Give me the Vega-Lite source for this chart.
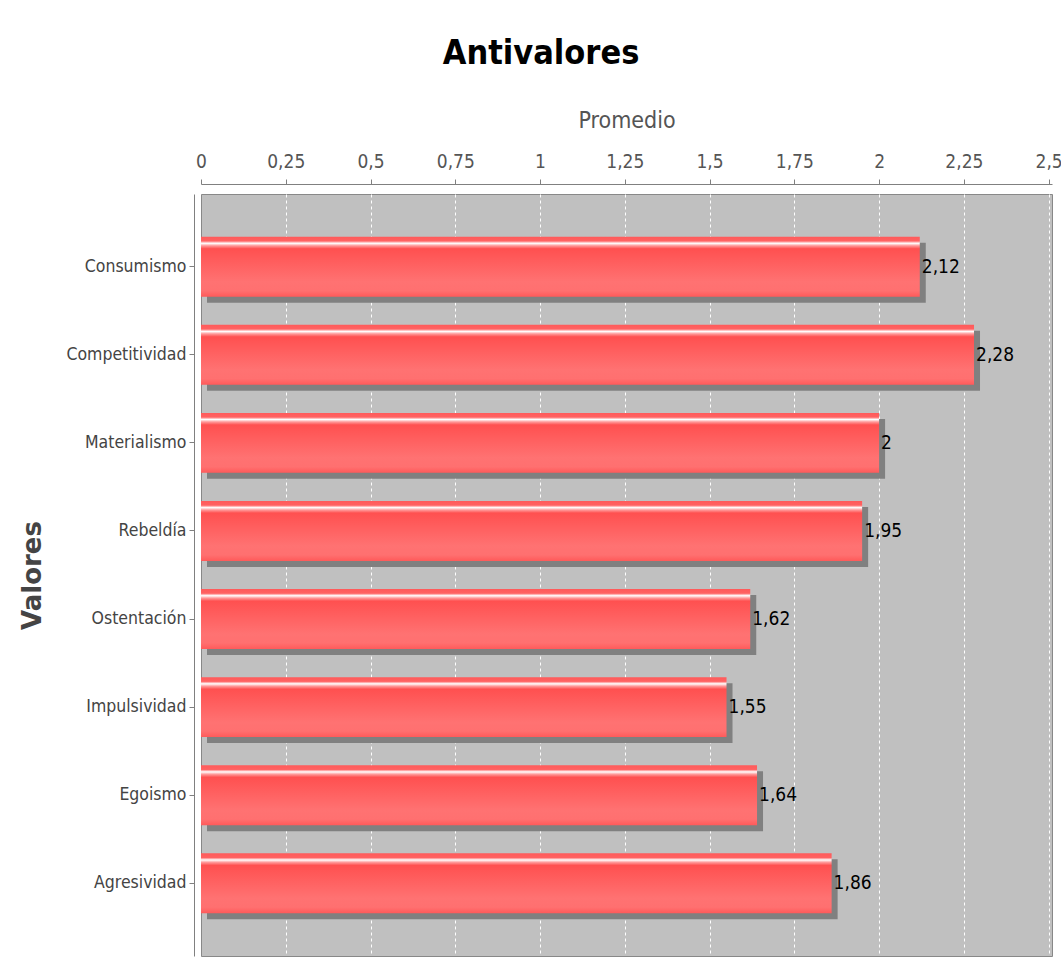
{
  "$schema": "https://vega.github.io/schema/vega-lite/v6.json",
  "autosize": {"type": "none"},
  "width": 851,
  "height": 762,
  "padding": {"left": 201, "top": 194, "right": 9, "bottom": 10},
  "background": "white",
  "title": {
    "text": "Antivalores",
    "anchor": "middle",
    "frame": "bounds",
    "font": "DejaVu Sans Condensed, sans-serif",
    "fontSize": 34,
    "fontWeight": "bold",
    "color": "#000000",
    "offset": 38
  },
  "data": {
    "values": [
      {"valor": "Consumismo", "promedio": 2.12},
      {"valor": "Competitividad", "promedio": 2.28},
      {"valor": "Materialismo", "promedio": 2},
      {"valor": "Rebeldía", "promedio": 1.95},
      {"valor": "Ostentación", "promedio": 1.62},
      {"valor": "Impulsividad", "promedio": 1.55},
      {"valor": "Egoismo", "promedio": 1.64},
      {"valor": "Agresividad", "promedio": 1.86}
    ]
  },
  "encoding": {
    "y": {
      "field": "valor",
      "type": "nominal",
      "sort": null,
      "scale": {"paddingInner": 0.32, "paddingOuter": 0.485},
      "axis": {
        "title": "Valores",
        "titleFont": "DejaVu Sans",
        "titleFontSize": 26,
        "titleFontWeight": "bold",
        "titleColor": "#444444",
        "titlePadding": 20,
        "labelFont": "DejaVu Sans Condensed, sans-serif",
        "labelFontSize": 17.5,
        "labelColor": "#444444",
        "labelPadding": 3,
        "offset": 7,
        "domainColor": "#808080",
        "tickColor": "#808080",
        "tickSize": 5
      }
    },
    "x": {
      "field": "promedio",
      "type": "quantitative",
      "scale": {"domain": [0, 2.51], "nice": false, "zero": true},
      "axis": {
        "orient": "top",
        "title": "Promedio",
        "values": [0, 0.25, 0.5, 0.75, 1, 1.25, 1.5, 1.75, 2, 2.25, 2.5],
        "format": ".2~f",
        "offset": 10,
        "grid": true,
        "gridColor": "#ffffff",
        "gridDash": [3, 3],
        "gridOpacity": {"condition": {"test": "datum.value === 0", "value": 0}, "value": 1},
        "domainColor": "#808080",
        "tickColor": "#808080",
        "tickSize": 5,
        "labelFont": "DejaVu Sans Condensed, sans-serif",
        "labelFontSize": 19,
        "labelColor": "#555555",
        "labelPadding": 8,
        "labelFlush": false,
        "titleFont": "DejaVu Sans Condensed, sans-serif",
        "titleFontSize": 23,
        "titleFontWeight": "normal",
        "titleColor": "#555555",
        "titlePadding": 20
      }
    }
  },
  "layer": [
    {
      "mark": {"type": "bar", "color": "#808080", "xOffset": 6, "yOffset": 6, "cornerRadius": 0}
    },
    {
      "mark": {
        "type": "bar",
        "cornerRadius": 0,
        "color": {
          "gradient": "linear",
          "x1": 0, "y1": 0, "x2": 0, "y2": 1,
          "stops": [
            {"offset": 0, "color": "#ff5a5a"},
            {"offset": 0.07, "color": "#ff6262"},
            {"offset": 0.11, "color": "#ffffff"},
            {"offset": 0.15, "color": "#ff9a9a"},
            {"offset": 0.2, "color": "#ff5050"},
            {"offset": 0.75, "color": "#ff7272"},
            {"offset": 0.9, "color": "#ff7070"},
            {"offset": 1, "color": "#ff5a5a"}
          ]
        }
      }
    },
    {
      "mark": {
        "type": "text",
        "align": "left",
        "baseline": "middle",
        "dx": 2,
        "font": "DejaVu Sans Condensed, sans-serif",
        "fontSize": 19,
        "color": "#000000"
      },
      "encoding": {
        "text": {"field": "promedio", "type": "quantitative", "format": ".2~f"}
      }
    }
  ],
  "config": {
    "locale": {
      "number": {"decimal": ",", "thousands": ".", "grouping": [3], "currency": ["", " €"]}
    },
    "view": {"fill": "#c0c0c0", "stroke": "#888888", "strokeWidth": 1}
  }
}
